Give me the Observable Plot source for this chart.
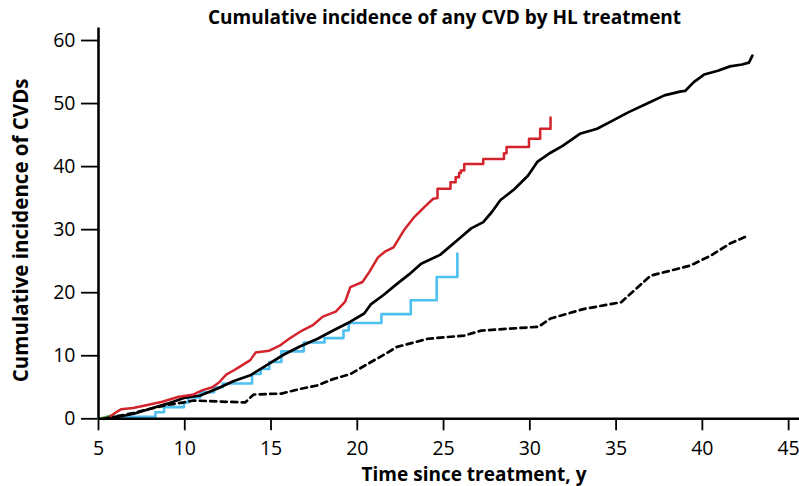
<!DOCTYPE html>
<html>
<head>
<meta charset="utf-8">
<script src="https://cdn.jsdelivr.net/npm/d3@7"></script>
<script src="https://cdn.jsdelivr.net/npm/@observablehq/plot@0.6"></script>
<style>
  html, body { margin: 0; padding: 0; background: white; }
  #title { width: 799px; height: 26px; box-sizing: border-box; padding-left: 90px; text-align: center;
           font: bold 19px "Open Sans", sans-serif; line-height: 35px; white-space: nowrap; overflow: visible; }
  #chart svg { display: block; }
</style>
</head>
<body>
<div id="title">Cumulative incidence of any CVD by HL treatment</div>
<div id="chart"></div>
<script>
const titleText = "Cumulative incidence of any CVD by HL treatment";
const xLabel = "Time since treatment, y";
const yLabel = "Cumulative incidence of CVDs";
const xTicks = [5, 10, 15, 20, 25, 30, 35, 40, 45];
const yTicks = [0, 10, 20, 30, 40, 50, 60];

// Red series (years, %)
const redX = [5.7, 6.0, 6.3, 7.0, 7.7, 8.7, 9.65, 10.45, 11.0, 11.6, 12.0, 12.4, 12.85, 13.15, 13.8, 14.1, 14.9, 15.5, 16.05, 16.8, 17.4, 18.0, 18.75, 19.3, 19.6, 20.3, 20.7, 21.2, 21.6, 22.1, 22.7, 23.3, 23.9, 24.4,
  24.65, 24.65, 25.4, 25.4, 25.7, 25.7, 25.9, 25.9, 26.0, 26.0, 26.2, 26.2, 27.3, 27.3, 28.5, 28.5, 28.65, 28.65, 29.95, 29.95, 30.6, 30.6, 31.2, 31.2];
const redY = [0.4, 1.0, 1.5, 1.7, 2.1, 2.7, 3.5, 3.8, 4.5, 5.0, 5.8, 7.0, 7.7, 8.2, 9.3, 10.5, 10.8, 11.6, 12.7, 14.0, 14.8, 16.2, 17.0, 18.6, 20.9, 21.7, 23.3, 25.6, 26.5, 27.2, 29.9, 32.0, 33.6, 34.9,
  35.0, 36.5, 36.5, 37.5, 37.5, 38.3, 38.3, 39.0, 39.0, 39.4, 39.4, 40.4, 40.4, 41.2, 41.2, 42.1, 42.1, 43.1, 43.1, 44.4, 44.4, 46.0, 46.0, 47.8];

// Black solid series
const blackX = [5.3, 5.7, 6.3, 7.05, 8.0, 9.0, 9.95, 10.9, 11.9, 12.85, 13.8, 14.8, 15.75, 16.7, 17.7, 18.6, 19.6, 20.4, 20.8, 21.5, 22.3, 23.0, 23.7, 24.8, 26.0, 26.6, 27.3, 27.8, 28.3, 29.1, 29.9, 30.45, 31.2, 31.9, 32.9, 33.9, 34.8, 35.7, 36.8, 37.8, 38.7, 39.0, 39.5, 40.1, 40.9, 41.6, 42.3, 42.7, 42.9];
const blackY = [0.0, 0.2, 0.4, 0.8, 1.6, 2.4, 3.3, 3.7, 4.8, 6.0, 6.9, 8.6, 10.2, 11.5, 12.7, 14.0, 15.4, 16.7, 18.2, 19.6, 21.4, 22.9, 24.6, 26.0, 28.8, 30.2, 31.2, 32.8, 34.7, 36.4, 38.6, 40.8, 42.2, 43.3, 45.2, 46.0, 47.3, 48.6, 50.0, 51.3, 51.9, 52.0, 53.4, 54.6, 55.2, 55.9, 56.2, 56.5, 57.6];

// Blue step series (value after each jump)
const blueX = [5.8, 8.3, 8.8, 9.95, 10.2, 10.9, 11.7, 12.2, 13.9, 14.4, 14.9, 15.6, 16.9, 18.1, 19.2, 19.5, 21.4, 23.1, 24.6, 25.8, 25.8];
const blueY = [0.3, 1.05, 1.85, 2.6, 3.4, 4.2, 5.0, 5.6, 7.1, 7.9, 9.0, 10.7, 12.1, 12.8, 14.0, 15.2, 16.6, 18.8, 22.5, 22.5, 26.2];

// Black dashed series
const dashX = [5.5, 7.0, 8.0, 9.0, 9.95, 10.5, 11.9, 13.5, 14.0, 15.6, 16.7, 17.7, 18.6, 19.6, 20.6, 21.5, 22.3, 24.1, 26.2, 27.2, 30.5, 31.2, 33.1, 35.3, 37.0, 39.3, 40.5, 41.6, 42.7];
const dashY = [0.1, 0.9, 1.6, 2.2, 2.6, 2.9, 2.75, 2.6, 3.85, 4.0, 4.75, 5.3, 6.3, 7.1, 8.7, 10.1, 11.4, 12.7, 13.2, 14.0, 14.6, 15.9, 17.4, 18.5, 22.7, 24.3, 25.9, 27.8, 29.1];

// Green (mostly hidden) series
const greenX = [5.0, 5.9];
const greenY = [0.0, 0.6];

const zip = (xs, ys) => xs.map((x, i) => ({x, y: ys[i]}));
const red = zip(redX, redY), black = zip(blackX, blackY), blue = zip(blueX, blueY),
      dash = zip(dashX, dashY), green = zip(greenX, greenY);

const chart = Plot.plot({
  width: 799, height: 460,
  marginLeft: 98, marginRight: 0, marginTop: 1.4, marginBottom: 67.7,
  style: {fontFamily: "'Open Sans', sans-serif", color: "black", background: "white", overflow: "visible"},
  x: {domain: [5, 45.63]},
  y: {domain: [0, 62]},
  marks: [
    Plot.axisX({ticks: xTicks, tickSize: 12, tickPadding: 10, fontSize: 19.5, label: null, strokeWidth: 1.8}),
    Plot.axisY({ticks: yTicks, tickSize: 17, tickPadding: 6, fontSize: 19.5, label: null, strokeWidth: 1.8}),
    Plot.line(green, {x: "x", y: "y", stroke: "#5a9e3a", strokeWidth: 2.4}),
    Plot.line(blue, {x: "x", y: "y", curve: "step-after", stroke: "#4dc0ef", strokeWidth: 2.6}),
    Plot.line(dash, {x: "x", y: "y", stroke: "black", strokeWidth: 2.7, strokeDasharray: "6,4.5"}),
    Plot.line(black, {x: "x", y: "y", stroke: "black", strokeWidth: 2.7}),
    Plot.line(red, {x: "x", y: "y", stroke: "#d3232c", strokeWidth: 2.5}),
    Plot.ruleY([0], {strokeWidth: 2.6}),
    Plot.ruleX([5], {strokeWidth: 2.6}),
    Plot.text([xLabel], {frameAnchor: "bottom", dx: 25, dy: 56, lineAnchor: "middle", fontWeight: "bold", fontSize: 19}),
    Plot.text([yLabel], {frameAnchor: "left", textAnchor: "middle", rotate: -90, dx: -77, dy: 7, lineAnchor: "middle", fontWeight: "bold", fontSize: 20.5})
  ]
});
document.getElementById("chart").appendChild(chart);
</script>
</body>
</html>
